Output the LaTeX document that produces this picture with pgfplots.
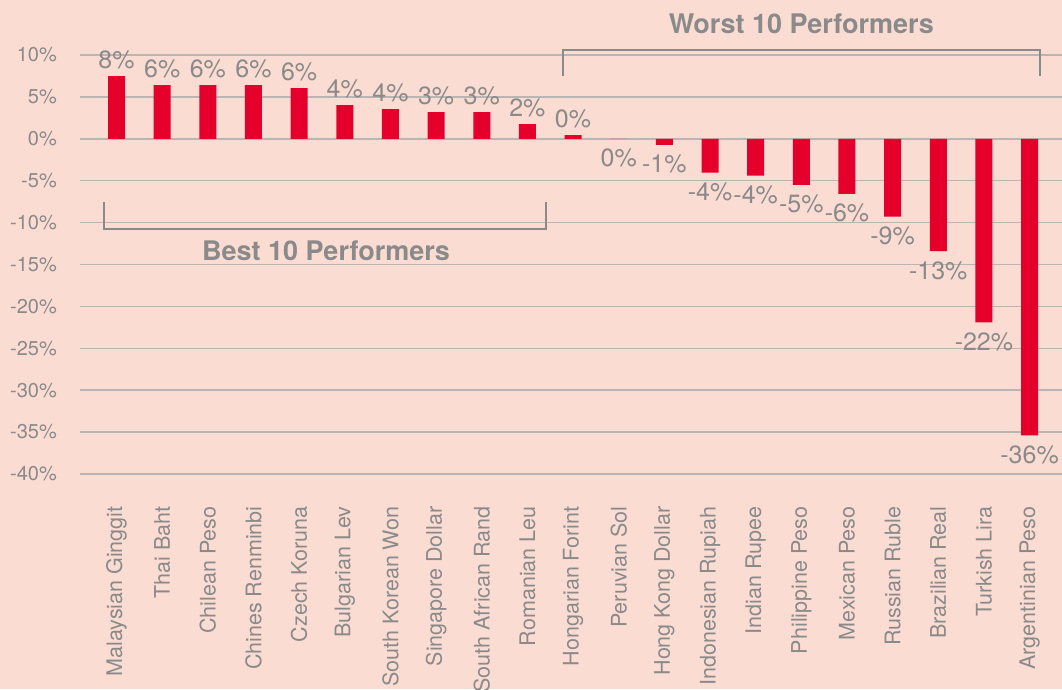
\documentclass[border=0pt]{standalone}
\usepackage{fontspec}
\setmainfont{TeX Gyre Heros}
\usepackage{pgfplots}
\pgfplotsset{compat=1.18}
\definecolor{bg}{RGB}{251,220,210}
\definecolor{barred}{RGB}{228,0,43}
\definecolor{txtgray}{RGB}{138,138,138}
\definecolor{gridgray}{RGB}{186,180,178}
\begin{document}
\begin{tikzpicture}[x=1pt,y=1pt]
\fill[bg] (0,0) rectangle (1062,689);
\path[use as bounding box] (0,0) rectangle (1062,689);
\begin{axis}[
  at={(80pt,215pt)}, anchor=south west,
  scale only axis, width=982pt, height=419pt,
  xmin=-0.8, xmax=20.71, ymin=-40, ymax=10,
  ybar, bar width=17pt,
  axis line style={draw=none}, tick style={draw=none},
  ymajorgrids, grid style={gridgray, line width=1.5pt},
  ytick={-40,-35,...,10},
  yticklabels={-40\%,-35\%,-30\%,-25\%,-20\%,-15\%,-10\%,-5\%,0\%,5\%,10\%},
  yticklabel style={font=\fontsize{20}{24}\selectfont, text=txtgray, inner sep=0pt},
  yticklabel shift=23pt,
  xtick={0,...,20},
  xticklabels={Malaysian Ginggit,Thai Baht,Chilean Peso,Chines Renminbi,Czech Koruna,Bulgarian Lev,South Korean Won,Singapore Dollar,South African Rand,Romanian Leu,Hongarian Forint,Peruvian Sol,Hong Kong Dollar,Indonesian Rupiah,Indian Rupee,Philippine Peso,Mexican Peso,Russian Ruble,Brazilian Real,Turkish Lira,Argentinian Peso},
  xticklabel style={rotate=90, anchor=east, font=\fontsize{21.5}{25}\selectfont, text=txtgray, inner sep=0pt},
  xticklabel shift=28pt,
  clip=false,
  point meta=explicit symbolic,
]
\addplot[fill=barred, draw=none, bar shift=0pt,
  nodes near coords={\pgfplotspointmeta\%},
  every node near coord/.append style={font=\fontsize{25}{30}\selectfont, text=txtgray, inner sep=0pt, anchor=base, yshift=8pt}]
  table[x=x, y=y, meta=lab] {
x y lab
0 7.48 8
1 6.41 6
2 6.41 6
3 6.41 6
4 6.05 6
5 4.02 4
6 3.54 4
7 3.19 3
8 3.19 3
9 1.76 2
10 0.44 0
};
\addplot[fill=barred, draw=none, bar shift=0pt,
  nodes near coords={\pgfplotspointmeta\%},
  every node near coord/.append style={font=\fontsize{25}{30}\selectfont, text=txtgray, inner sep=0pt, anchor=base, yshift=-28pt}]
  table[x=x, y=y, meta=lab] {
x y lab
11 0 0
12 -0.72 -1
13 -4.05 -4
14 -4.40 -4
15 -5.50 -5
16 -6.56 -6
17 -9.30 -9
18 -13.40 -13
19 -21.90 -22
20 -35.40 -36
};
\draw[txtgray, line width=1.7pt] (axis cs:9.78,7.48) -- (axis cs:9.78,10.58) -- (axis cs:20.23,10.58) -- (axis cs:20.23,7.48);
\draw[txtgray, line width=1.7pt] (axis cs:-0.28,-7.55) -- (axis cs:-0.28,-10.78) -- (axis cs:9.41,-10.78) -- (axis cs:9.41,-7.55);
\node[anchor=base, font=\bfseries\fontsize{27}{32}\selectfont, text=txtgray, inner sep=0pt] at (axis cs:15.0,12.61) {Worst 10 Performers};
\node[anchor=base, font=\bfseries\fontsize{27}{32}\selectfont, text=txtgray, inner sep=0pt] at (axis cs:4.59,-14.47) {Best 10 Performers};
\end{axis}
\end{tikzpicture}
\end{document}
